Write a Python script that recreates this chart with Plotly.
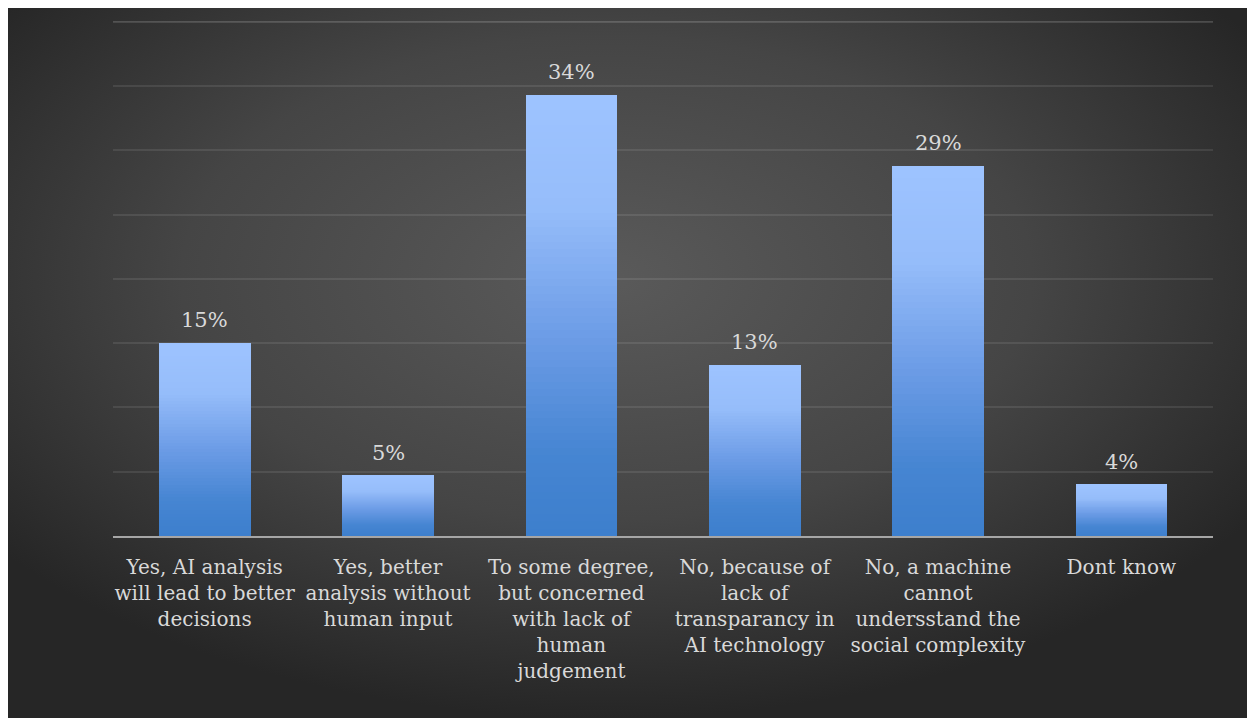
import base64
import plotly.graph_objects as go

categories = [
    "Yes, AI analysis<br>will lead to better<br>decisions",
    "Yes, better<br>analysis without<br>human input",
    "To some degree,<br>but concerned<br>with lack of<br>human<br>judgement",
    "No, because of<br>lack of<br>transparancy in<br>AI technology",
    "No, a machine<br>cannot<br>undersstand the<br>social complexity",
    "Dont know",
]
values = [15.0, 4.7, 34.3, 13.3, 28.8, 4.0]
value_labels = ["15%", "5%", "34%", "13%", "29%", "4%"]
y_ticks = [0, 5, 10, 15, 20, 25, 30, 35, 40]

W, H = 1247, 710
ML, MR, MT, MB = 105, 42, 10, 182
PW, PH = W - ML - MR, H - MT - MB

FONT = "DejaVu Serif"
TXT = "#d9d9d9"
GRID = "rgba(255,255,255,0.09)"

# vertical gradient stops for the bars (0 = bottom, 1 = top)
stops = [(0.0, (61, 127, 205)), (0.18, (70, 133, 210)), (0.45, (108, 156, 230)),
         (0.75, (150, 189, 250)), (1.0, (157, 195, 255))]


def grad(t):
    for (a, ca), (b, cb) in zip(stops[:-1], stops[1:]):
        if a <= t <= b:
            f = (t - a) / (b - a)
            c = [round(ca[i] + (cb[i] - ca[i]) * f) for i in range(3)]
            return "rgb(%d,%d,%d)" % tuple(c)
    return "rgb(%d,%d,%d)" % stops[-1][1]


N = 60
fig = go.Figure()
for k in range(N):
    fig.add_trace(go.Bar(
        x=list(range(len(categories))),
        y=[v / N for v in values],
        marker=dict(color=grad(k / (N - 1)), line=dict(width=0)),
        hoverinfo="skip",
        showlegend=False,
    ))

for i, (v, lab) in enumerate(zip(values, value_labels)):
    fig.add_annotation(x=i, y=v, text=lab, showarrow=False, yanchor="bottom",
                       yshift=9, font=dict(family=FONT, size=21, color=TXT))

# radial gradient background
svg = (
    '<svg xmlns="http://www.w3.org/2000/svg" width="1247" height="710" '
    'viewBox="0 0 1247 710" preserveAspectRatio="none">'
    '<defs><radialGradient id="g" cx="0.48" cy="0.38" r="0.62">'
    '<stop offset="0" stop-color="#5a5a5a"/>'
    '<stop offset="0.55" stop-color="#454545"/>'
    '<stop offset="1" stop-color="#262626"/>'
    '</radialGradient></defs>'
    '<rect width="1247" height="710" fill="url(#g)"/></svg>'
)
src = "data:image/svg+xml;base64," + base64.b64encode(svg.encode()).decode()
fig.add_layout_image(
    source=src, xref="paper", yref="paper",
    x=-ML / PW, y=(PH + MT) / PH,
    sizex=W / PW, sizey=H / PH,
    xanchor="left", yanchor="top", sizing="stretch", layer="below",
)

# top gridline (at the top of the value range)
fig.add_shape(type="line", xref="paper", yref="y", x0=0, x1=1,
              y0=y_ticks[-1], y1=y_ticks[-1], layer="below",
              line=dict(color=GRID, width=1.5))

fig.update_layout(
    width=W, height=H,
    margin=dict(l=ML, r=MR, t=MT, b=MB, pad=0),
    paper_bgcolor="#3a3a3a",
    plot_bgcolor="rgba(0,0,0,0)",
    barmode="stack",
    bargap=0.5,
    showlegend=False,
    xaxis=dict(
        tickmode="array", tickvals=list(range(len(categories))), ticktext=categories,
        range=[-0.5, len(categories) - 0.5],
        showgrid=False, zeroline=False, showline=True, linecolor="#a6a6a6", linewidth=2,
        ticks="", ticklabelstandoff=12,
        tickfont=dict(family=FONT, size=20, color=TXT),
        tickangle=0,
    ),
    yaxis=dict(
        range=[0, 40.3], tickvals=y_ticks, showticklabels=False,
        showgrid=True, gridcolor=GRID, gridwidth=1.5,
        zeroline=False, showline=False, ticks="",
    ),
)

fig.write_html("out.html")
